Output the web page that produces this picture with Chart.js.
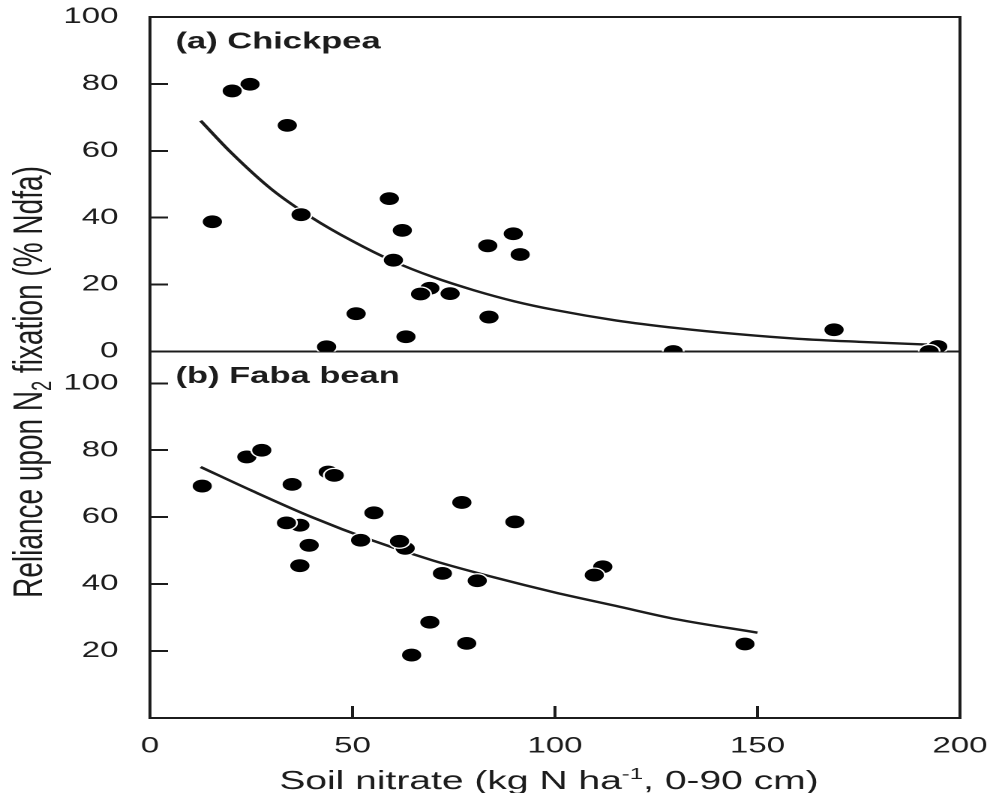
<!DOCTYPE html>
<html>
<head>
<meta charset="utf-8">
<script src="https://cdn.jsdelivr.net/npm/chart.js@4.4.1/dist/chart.umd.min.js"></script>
<style>
  html, body { margin: 0; padding: 0; background: #fff; overflow: hidden; }
  /* figure is laid out narrow, then widened 1.5x (broad type, oval dots) */
  #wrap { width: 660px; height: 793px; transform: scaleX(1.5); transform-origin: 0 0; }
</style>
</head>
<body>
<div id="wrap"><canvas id="nfix" width="660" height="793"></canvas></div>
<script>
/* ------------------------------------------------------------ */
/* data: soil nitrate (kg N/ha) vs. % N derived from fixation    */

// (a) chickpea plots
var chickpeaNitrate = [15.4, 24.7, 20.3, 33.9, 37.3, 43.6, 50.9, 59.1, 60.1, 62.3, 63.2, 69.1, 66.8, 74.1, 83.4, 83.7, 89.7, 91.4, 129.2, 168.9, 194.5, 192.4];
var chickpeaNdfa    = [38.8, 79.9, 77.9, 67.6, 40.9, 1.4, 11.3, 45.7, 27.3, 36.2, 4.4, 18.9, 17.2, 17.3, 31.6, 10.3, 35.2, 29.0, 0, 6.5, 1.5, 0];

// (b) faba bean plots
var fabaNitrate = [12.9, 23.9, 27.6, 35.1, 37.0, 33.7, 39.3, 37.0, 44.0, 45.5, 55.3, 52.0, 63.0, 61.6, 77.0, 72.2, 80.8, 69.1, 64.6, 78.2, 90.1, 111.8, 109.7, 146.9];
var fabaNdfa    = [69.3, 78.0, 80.0, 69.8, 57.6, 58.3, 51.6, 45.5, 73.5, 72.5, 61.3, 53.1, 50.7, 52.8, 64.4, 43.2, 41.0, 28.6, 18.8, 22.3, 58.6, 45.2, 42.7, 22.1];

// fitted response curves
var chickpeaFitX = [12.5, 20, 30, 40, 50, 60, 70, 80, 90, 100, 115, 130, 145, 160, 175, 195.5];
var chickpeaFitY = [69, 59.5, 48.5, 40, 33, 27, 22.2, 18.3, 15, 12.4, 9.3, 7, 5.2, 3.8, 2.9, 1.9];
var fabaFitX = [12.5, 25, 40, 55, 70, 85, 100, 115, 130, 150];
var fabaFitY = [75, 68, 60, 53, 47, 42, 37.5, 33.5, 29.5, 25.5];

// axis ticks
var xTicks = [0, 50, 100, 150, 200];
var chickpeaTicks = [0, 20, 40, 60, 80, 100];
var fabaTicks = [20, 40, 60, 80, 100];

/* ------------------------------------------------------------ */

var ink = '#1c1c1c';
var family = '"Liberation Sans", Arial, Helvetica, sans-serif';
Chart.defaults.font.family = family;
Chart.defaults.color = ink;

function pairs(xs, ys) {
    return xs.map(function (x, i) { return { x: x, y: ys[i] }; });
}

function fixedTicks(list) {
    return function (scale) {
        scale.ticks = list.map(function (v) { return { value: v }; });
    };
}

// fixed axis thickness; labels may hang over the edges without pushing the plot area in
function fixedSize(prop, size) {
    return function (scale) {
        scale[prop] = size;
        scale.paddingTop = scale.paddingBottom = scale.paddingLeft = scale.paddingRight = 0;
    };
}

// draws a line of text made of runs with their own size / offset (sub & superscripts)
function drawRuns(ctx, runs, cx, baseY) {
    var total = 0;
    runs.forEach(function (r) {
        ctx.font = r.size + 'px ' + family;
        r.w = ctx.measureText(r.text).width;
        total += r.w;
    });
    var x = cx - total / 2;
    runs.forEach(function (r) {
        ctx.font = r.size + 'px ' + family;
        ctx.fillText(r.text, x, baseY + (r.dy || 0));
        x += r.w;
    });
}

var figureText = {
    id: 'figureText',
    afterDraw: function (chart) {
        var ctx = chart.ctx;
        var area = chart.chartArea;
        var yTop = chart.scales.yChickpea;
        var yBot = chart.scales.yFaba;

        ctx.save();
        // top and right edge of the frame
        ctx.strokeStyle = ink;
        ctx.lineWidth = 2;
        ctx.beginPath();
        ctx.moveTo(area.left, area.top);
        ctx.lineTo(area.right, area.top);
        ctx.lineTo(area.right, area.bottom);
        ctx.stroke();

        ctx.fillStyle = ink;
        ctx.textAlign = 'left';
        ctx.textBaseline = 'middle';
        ctx.font = 'bold 23px ' + family;
        ctx.fillText('(a) Chickpea', area.left + 17, yTop.top + 25);
        ctx.fillText('(b) Faba bean', area.left + 17, yBot.top + 25);

        // x axis title
        ctx.textBaseline = 'alphabetic';
        drawRuns(ctx, [
            { text: 'Soil nitrate (kg N ha', size: 26 },
            { text: '-1', size: 16, dy: -10 },
            { text: ', 0-90 cm)', size: 26 }
        ], (area.left + area.right) / 2 - 4, 789);

        // y axis title, spans both panels
        ctx.translate(28, 382);
        ctx.rotate(-Math.PI / 2);
        drawRuns(ctx, [
            { text: 'Reliance upon N', size: 28 },
            { text: '2', size: 18, dy: 6 },
            { text: ' fixation (% Ndfa)', size: 28 }
        ], 0, 0);
        ctx.restore();
    }
};

var tickFont = { size: 22 };

var ctx = document.getElementById('nfix').getContext('2d');
var nfixChart = new Chart(ctx, {
    type: 'scatter',
    data: {
        datasets: [{
            label: 'Chickpea',
            data: pairs(chickpeaNitrate, chickpeaNdfa),
            yAxisID: 'yChickpea',
            order: 1
        }, {
            label: 'Faba bean',
            data: pairs(fabaNitrate, fabaNdfa),
            yAxisID: 'yFaba',
            order: 1
        }, {
            label: 'Chickpea fit',
            data: pairs(chickpeaFitX, chickpeaFitY),
            yAxisID: 'yChickpea',
            showLine: true,
            pointRadius: 0,
            borderColor: ink,
            borderWidth: 2.4,
            cubicInterpolationMode: 'monotone',
            order: 2
        }, {
            label: 'Faba bean fit',
            data: pairs(fabaFitX, fabaFitY),
            yAxisID: 'yFaba',
            showLine: true,
            pointRadius: 0,
            borderColor: ink,
            borderWidth: 2.4,
            cubicInterpolationMode: 'monotone',
            order: 2
        }]
    },
    options: {
        responsive: false,
        devicePixelRatio: 2,
        animation: false,
        events: [],
        layout: { padding: { top: 17, right: 20, bottom: 0, left: 0 } },
        elements: {
            point: {
                radius: 7,
                backgroundColor: '#000',
                borderColor: '#fff',
                borderWidth: 1.2
            }
        },
        plugins: {
            legend: { display: false },
            tooltip: { enabled: false }
        },
        scales: {
            x: {
                type: 'linear',
                min: 0,
                max: 200,
                afterBuildTicks: fixedTicks(xTicks),
                afterFit: fixedSize('height', 75),
                grid: { drawOnChartArea: false, tickLength: -12, tickColor: ink, tickWidth: 2 },
                border: { color: ink, width: 2 },
                ticks: { padding: 27, font: tickFont, color: ink, maxRotation: 0 }
            },
            // lower panel first: the later stacked scale sits on top
            yFaba: {
                type: 'linear',
                position: 'left',
                stack: 'panels',
                stackWeight: 366.5,
                min: 0,
                max: 109.5,
                afterBuildTicks: fixedTicks(fabaTicks),
                afterFit: fixedSize('width', 100),
                grid: { drawOnChartArea: false, tickLength: -12, tickColor: ink, tickWidth: 2 },
                border: { color: ink, width: 2 },
                ticks: { padding: 33, font: tickFont, color: ink }
            },
            yChickpea: {
                type: 'linear',
                position: 'left',
                stack: 'panels',
                stackWeight: 334.5,
                min: 0,
                max: 100,
                afterBuildTicks: fixedTicks(chickpeaTicks),
                afterFit: fixedSize('width', 100),
                grid: {
                    // only the zero line runs across, splitting the two panels
                    color: function (c) { return c.tick && c.tick.value === 0 ? ink : 'rgba(0,0,0,0)'; },
                    lineWidth: 2,
                    tickLength: -12,
                    tickColor: ink,
                    tickWidth: 2
                },
                border: { color: ink, width: 2 },
                ticks: { padding: 33, font: tickFont, color: ink }
            }
        }
    },
    plugins: [figureText]
});
</script>
</body>
</html>
